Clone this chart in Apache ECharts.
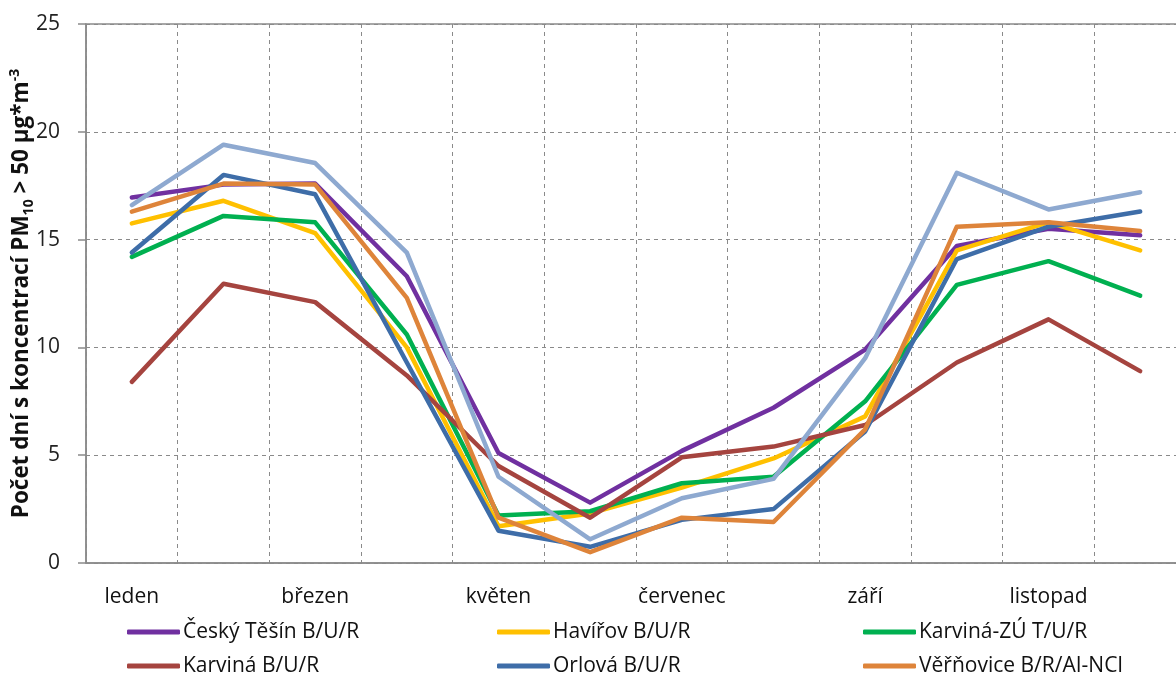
<!DOCTYPE html>
<html>
<head>
<meta charset="utf-8">
<script src="https://cdn.jsdelivr.net/npm/echarts@6/dist/echarts.min.js"></script>
<style>
html,body{margin:0;padding:0;background:#fff;}
#chart{width:1176px;height:677px;}
</style>
</head>
<body>
<div id="chart"></div>
<script>
const months = ['leden','únor','březen','duben','květen','červen','červenec','srpen','září','říjen','listopad','prosinec'];
const yTicks = [0, 5, 10, 15, 20, 25];

const ceskyTesin = [16.95, 17.55, 17.6, 13.3, 5.1, 2.8, 5.2, 7.2, 9.9, 14.7, 15.5, 15.2];
const havirov    = [15.75, 16.8, 15.3, 10.0, 1.7, 2.3, 3.5, 4.85, 6.8, 14.5, 15.8, 14.5];
const karvinaZU  = [14.2, 16.1, 15.8, 10.6, 2.2, 2.4, 3.7, 4.0, 7.5, 12.9, 14.0, 12.4];
const karvina    = [8.4, 12.95, 12.1, 8.7, 4.5, 2.1, 4.9, 5.4, 6.4, 9.3, 11.3, 8.9];
const orlova     = [14.4, 18.0, 17.1, 9.3, 1.5, 0.75, 2.0, 2.5, 6.1, 14.1, 15.6, 16.3];
const verinovice = [16.3, 17.6, 17.55, 12.3, 2.1, 0.5, 2.1, 1.9, 6.2, 15.6, 15.8, 15.4];
const series7    = [16.6, 19.4, 18.55, 14.4, 4.0, 1.1, 3.0, 3.9, 9.5, 18.1, 16.4, 17.2];

const names = ['Český Těšín B/U/R','Havířov B/U/R','Karviná-ZÚ T/U/R','Karviná B/U/R','Orlová B/U/R','Věřňovice B/R/AI-NCI','řada 7'];
const colors = ['#7030A0','#FFC000','#00B050','#A5443F','#3E6DA8','#DE843A','#8EA9D0'];
const values = [ceskyTesin, havirov, karvinaZU, karvina, orlova, verinovice, series7];

const FONT = 'Open Sans';
const legendPos = [[127,620],[497,620],[863,620],[127,654],[497,654],[863,654]];

const chart = echarts.init(document.getElementById('chart'), null, {renderer:'canvas'});
chart.setOption({
  animation: false,
  backgroundColor: '#fff',
  textStyle: {fontFamily: FONT},
  grid: {left: 86, top: 24, width: 1100, height: 539, show: true, borderColor: '#8a8a8a', borderWidth: 1.5, containLabel: false, outerBoundsMode: 'none'},
  legend: legendPos.map((p, i) => ({
    data: [names[i]],
    left: p[0], top: p[1], padding: 0,
    icon: 'roundRect', itemWidth: 53, itemHeight: 5,
    textStyle: {fontFamily: FONT, fontSize: 21, color: '#111', lineHeight: 24, padding: [0,0,0,-2]}
  })),
  xAxis: {
    type: 'category',
    data: months,
    boundaryGap: true,
    axisLine: {lineStyle: {color: '#8a8a8a', width: 1.5}},
    axisTick: {show: false, interval: 0},
    axisLabel: {interval: 1, fontFamily: FONT, fontSize: 21, color: '#111', margin: 24},
    splitLine: {show: true, interval: 0, lineStyle: {color: '#8a8a8a', type: [4,4], width: 1}}
  },
  yAxis: {
    type: 'value',
    min: yTicks[0], max: yTicks[yTicks.length-1], interval: 5,
    axisLine: {show: true, lineStyle: {color: '#8a8a8a', width: 1.5}},
    axisTick: {show: true, length: 8, lineStyle: {color: '#8a8a8a', width: 1.5}},
    axisLabel: {fontFamily: FONT, fontSize: 21, color: '#222', margin: 26},
    splitLine: {show: true, lineStyle: {color: '#8a8a8a', type: [4,4], width: 1}},
    name: '{b|Počet dní s koncentrací PM}{s|10}{b| > 50 µg*m}{p|-3}',
    nameLocation: 'middle',
    nameRotate: 90,
    nameGap: 50,
    nameMoveOverlap: false,
    nameTextStyle: {
      rich: {
        b: {fontFamily: FONT, fontWeight: 'bold', fontSize: 22.5, color: '#111', lineHeight: 28, verticalAlign: 'middle'},
        s: {fontFamily: FONT, fontWeight: 'bold', fontSize: 14, color: '#111', lineHeight: 28, verticalAlign: 'bottom', padding: [8,0,0,0]},
        p: {fontFamily: FONT, fontWeight: 'bold', fontSize: 14, color: '#111', lineHeight: 28, verticalAlign: 'top', padding: [0,0,8,0]}
      }
    }
  },
  series: values.map((v, i) => ({
    name: names[i],
    type: 'line',
    data: v,
    symbol: 'none',
    lineStyle: {width: 4.5, color: colors[i], cap: 'round', join: 'round'},
    itemStyle: {color: colors[i]},
    z: 2 + i
  }))
});
</script>
</body>
</html>
